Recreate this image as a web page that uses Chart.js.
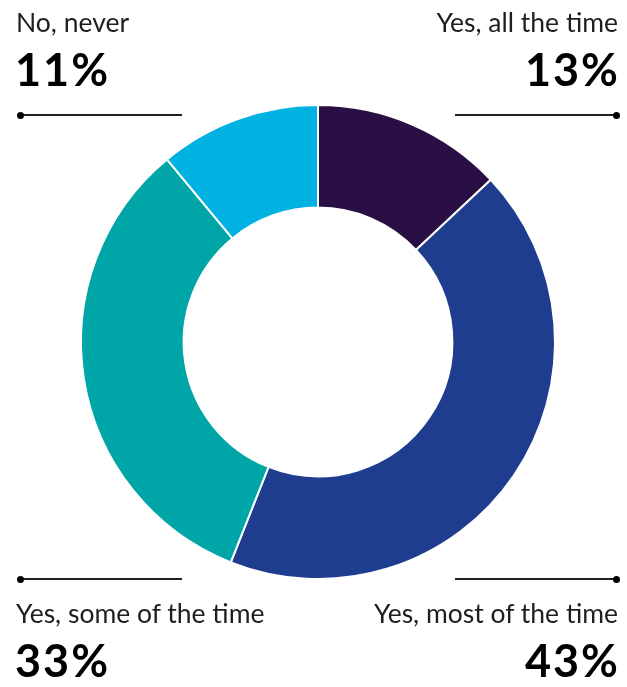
<!DOCTYPE html>
<html>
<head>
<meta charset="utf-8">
<script src="https://cdn.jsdelivr.net/npm/chart.js@4"></script>
<style>
  html, body { margin: 0; padding: 0; background: #fff; }
  #wrap { position: relative; width: 627px; height: 687px; overflow: hidden; }
  #chart { position: absolute; left: 0; top: 0; }
  .lbl { position: absolute; font-family: Lato, "Open Sans", sans-serif; white-space: nowrap; line-height: 1; }
  .name { font-size: 26.5px; font-weight: 400; color: #1e1e1e; }
  .pct { font-size: 45px; font-weight: 700; color: #000; letter-spacing: 2px; }
  .rule { position: absolute; height: 1.5px; background: #222; width: 162px; }
  .dot { position: absolute; width: 7px; height: 7px; border-radius: 50%; background: #000; }
</style>
</head>
<body>
<div id="wrap">
  <canvas id="chart" width="627" height="687"></canvas>
</div>
<script>
// Survey answers and their shares (percent)
const categories = ["Yes, all the time", "Yes, most of the time", "Yes, some of the time", "No, never"];
const shares = [13, 43, 33, 11];
const sliceColors = ["#2a0f45", "#1f3d8f", "#00a6a7", "#00b2e1"];

// Corner placement for each answer's caption
const corners = ["top-right", "bottom-right", "bottom-left", "top-left"];

const wrap = document.getElementById('wrap');

corners.forEach((corner, i) => {
  const top = corner.startsWith('top');
  const right = corner.endsWith('right');

  const name = document.createElement('div');
  name.className = 'lbl name';
  name.textContent = categories[i];
  const pct = document.createElement('div');
  pct.className = 'lbl pct';
  pct.textContent = shares[i] + '%';

  if (right) { name.style.right = '9px'; pct.style.right = '7px'; }
  else { name.style.left = '16px'; pct.style.left = '15px'; }

  const lineY = top ? 114 : 578;
  if (top) { name.style.top = '8.5px'; pct.style.top = '47px'; }
  else { name.style.top = '599.5px'; pct.style.top = '638px'; }

  const rule = document.createElement('div');
  rule.className = 'rule';
  rule.style.top = lineY + 'px';
  rule.style.left = (right ? 455 : 20) + 'px';
  const dot = document.createElement('div');
  dot.className = 'dot';
  dot.style.top = (lineY - 2.5) + 'px';
  dot.style.left = (right ? 613 : 17) + 'px';

  wrap.append(name, pct, rule, dot);
});

new Chart(document.getElementById('chart'), {
  type: 'doughnut',
  data: {
    labels: categories,
    datasets: [{
      data: shares,
      backgroundColor: sliceColors,
      borderColor: '#ffffff',
      borderWidth: 2,
      hoverOffset: 0
    }]
  },
  options: {
    responsive: false,
    animation: false,
    cutout: '56.7%',
    rotation: 0,
    layout: { padding: { left: 80, right: 71, top: 104, bottom: 107 } },
    plugins: {
      legend: { display: false },
      tooltip: { enabled: false }
    }
  }
});
</script>
</body>
</html>
